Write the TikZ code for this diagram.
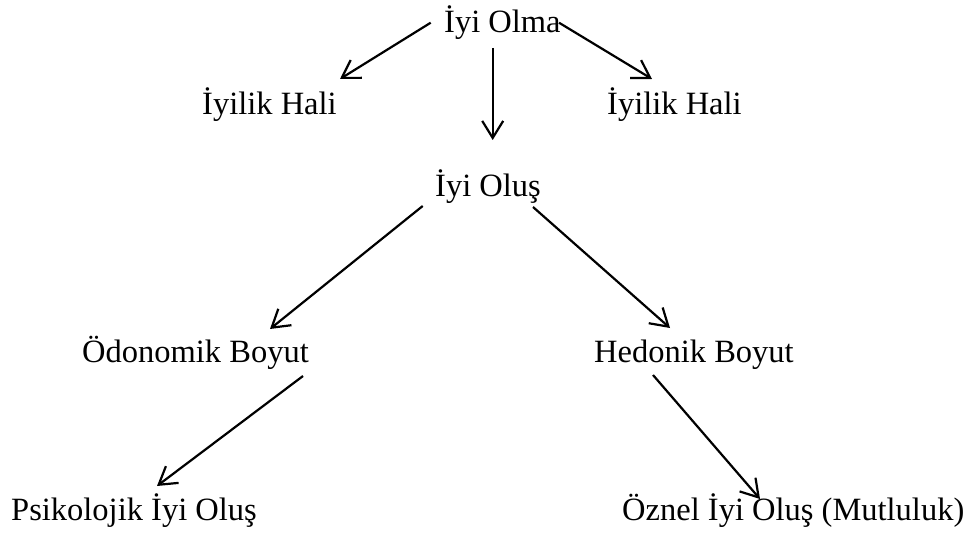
\documentclass[tikz,border=0pt]{standalone}
\usepackage{fontspec}
\setmainfont{Liberation Serif}
\usetikzlibrary{arrows.meta}
\begin{document}
\begin{tikzpicture}[x=1pt,y=-1pt,
  lbl/.style={anchor=base west,inner sep=0pt,font=\fontsize{32.5}{38}\selectfont},
  conn/.style={line width=2.2pt,-{Straight Barb[length=17pt,width=21pt,line width=2.2pt]}}]
\useasboundingbox (0,0) rectangle (971,534);
\node[lbl] (top) at (444,33) {İyi Olma};
\node[lbl] (hl) at (202,115) {İyilik Hali};
\node[lbl] (hr) at (607,115) {İyilik Hali};
\node[lbl] (mid) at (435,197) {İyi Oluş};
\node[lbl] (od) at (82,362) {Ödonomik Boyut};
\node[lbl] (hd) at (594,362) {Hedonik Boyut};
\node[lbl] (ps) at (11,520) {Psikolojik İyi Oluş};
\node[lbl] (oz) at (622,520) {Öznel İyi Oluş (Mutluluk)};
% connector end points
\coordinate (top-l) at (430.7,22.7);
\coordinate (top-r) at (559,22.7);
\coordinate (top-d) at (492.7,48);
\coordinate (hl-in) at (340,79);
\coordinate (hr-in) at (652,79);
\coordinate (mid-in) at (492.7,140);
\coordinate (mid-l) at (422.7,206);
\coordinate (mid-r) at (533,207);
\coordinate (od-in) at (270,329);
\coordinate (hd-in) at (670,328);
\coordinate (od-out) at (303,376);
\coordinate (hd-out) at (653,375);
\coordinate (ps-in) at (157,486);
\coordinate (oz-in) at (760,499);
\draw[conn] (top-l) -- (hl-in);
\draw[conn] (top-r) -- (hr-in);
\draw[conn] (top-d) -- (mid-in);
\draw[conn] (mid-l) -- (od-in);
\draw[conn] (mid-r) -- (hd-in);
\draw[conn] (od-out) -- (ps-in);
\draw[conn] (hd-out) -- (oz-in);
\end{tikzpicture}
\end{document}
